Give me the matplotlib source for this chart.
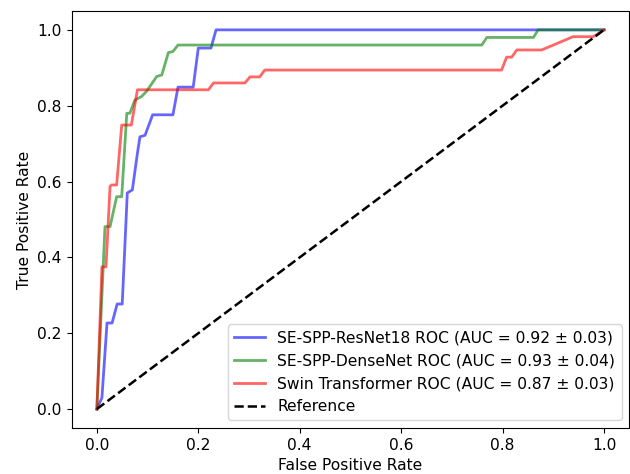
import matplotlib.pyplot as plt

# 平均ROC曲線
resnet_fpr = [0.0, 0.01, 0.02, 0.03, 0.04, 0.05, 0.06, 0.07, 0.08, 0.085, 0.095,
              0.11, 0.15, 0.16, 0.19, 0.20, 0.225, 0.235, 1.0]
resnet_tpr = [0.0, 0.03, 0.227, 0.227, 0.277, 0.277, 0.57, 0.578, 0.675, 0.718, 0.722,
              0.776, 0.776, 0.849, 0.849, 0.952, 0.952, 1.0, 1.0]

densenet_fpr = [0.0, 0.016, 0.026, 0.039, 0.049, 0.059, 0.065, 0.075, 0.088, 0.098,
                0.118, 0.128, 0.141, 0.150, 0.160, 0.759, 0.769, 0.861, 0.870, 1.0]
densenet_tpr = [0.0, 0.481, 0.481, 0.560, 0.560, 0.780, 0.780, 0.815, 0.824, 0.838,
                0.877, 0.881, 0.940, 0.943, 0.960, 0.960, 0.980, 0.980, 1.0, 1.0]

swin_fpr = [0.0, 0.01, 0.018, 0.026, 0.029, 0.039, 0.049, 0.068, 0.08, 0.22, 0.23,
            0.292, 0.302, 0.321, 0.331, 0.798, 0.808, 0.818, 0.828, 0.877, 0.939,
            0.979, 1.0]
swin_tpr = [0.0, 0.375, 0.375, 0.587, 0.591, 0.591, 0.749, 0.749, 0.842, 0.842, 0.86,
            0.86, 0.876, 0.876, 0.894, 0.894, 0.928, 0.928, 0.947, 0.947, 0.982,
            0.982, 1.0]

labels = ['SE-SPP-ResNet18 ROC (AUC = 0.92 ± 0.03)',
          'SE-SPP-DenseNet ROC (AUC = 0.93 ± 0.04)',
          'Swin Transformer ROC (AUC = 0.87 ± 0.03)']

plt.rcParams['font.size'] = 11.2

fig = plt.figure(figsize=(6.3, 4.74), dpi=100)
ax = fig.add_axes([0.1135, 0.097, 0.8855, 0.88])

ax.plot(resnet_fpr, resnet_tpr, color='blue', alpha=0.6, lw=2, label=labels[0])
ax.plot(densenet_fpr, densenet_tpr, color='green', alpha=0.6, lw=2, label=labels[1])
ax.plot(swin_fpr, swin_tpr, color='red', alpha=0.6, lw=2, label=labels[2])
ax.plot([0, 1], [0, 1], 'k--', lw=1.8, label='Reference')

ax.set_xlim(-0.05, 1.05)
ax.set_ylim(-0.05, 1.05)
ax.set_xlabel('False Positive Rate')
ax.set_ylabel('True Positive Rate')
ax.legend(loc='lower right')

fig.savefig('out.png', dpi=100)
